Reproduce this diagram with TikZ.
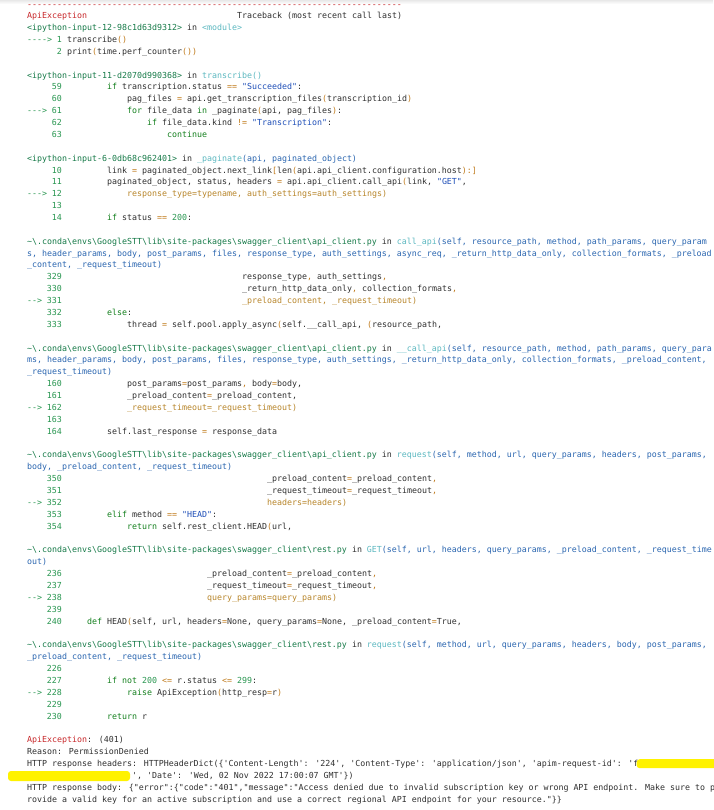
\documentclass[tikz,border=0pt]{standalone}
\usepackage{fontspec}
\usepackage{xcolor}
\usepackage{tikz}
\usetikzlibrary{positioning}
\newfontfamily\codefont{DejaVu Sans Mono}
\definecolor{fgc}{RGB}{48,48,48}
\definecolor{errc}{RGB}{200,40,43}
\definecolor{lnc}{RGB}{40,150,80}
\definecolor{pathcol}{RGB}{22,122,72}
\definecolor{fncol}{RGB}{92,184,192}
\definecolor{argcol}{RGB}{43,102,176}
\definecolor{kwcol}{RGB}{20,128,30}
\definecolor{strcol}{RGB}{31,79,184}
\definecolor{opcol}{RGB}{192,122,26}
\definecolor{hlcol}{RGB}{184,134,43}
\definecolor{redact}{RGB}{255,242,0}
\catcode`\_=12
\newcommand\kw[1]{\textcolor{kwcol}{#1}}
\newcommand\st[1]{\textcolor{strcol}{#1}}
\newcommand\op[1]{\textcolor{opcol}{#1}}
\newcommand\nm[1]{\textcolor{lnc}{#1}}
\newcommand\hlt[1]{\textcolor{hlcol}{#1}}
\newcommand\fnc[1]{\textcolor{fncol}{#1}}
\newcommand\argc[1]{\textcolor{argcol}{#1}}
\newcommand\pathc[1]{\textcolor{pathcol}{#1}}
\newcommand\envpath{\textasciitilde\textbackslash.conda\textbackslash envs\textbackslash GoogleSTT\textbackslash lib\textbackslash site-packages\textbackslash swagger_client\textbackslash}
% code line: row, column, text
\newcommand\cl[3]{\node[codetxt] (l#1) at ({27+5*#2},{-18.7-11.87*#1}) {#3};}
% line number: row, arrow, number
\newcommand\lno[3]{\node[codetxt, text=lnc] (a#1) at (27,{-18.7-11.87*#1}) {#2};
  \node[codetxt, text=lnc, anchor=base east] (n#1) at (62,{-18.7-11.87*#1}) {#3};}

\begin{document}
\begin{tikzpicture}[
    x=1pt, y=1pt,
    codetxt/.style={
        anchor=base west,
        inner sep=0pt,
        text=fgc,
        font=\codefont\fontsize{8.3}{10}\selectfont
    }
]
\useasboundingbox[fill=white] (0,0) rectangle (713,-810);
\shade[top color=gray!18, bottom color=white] (0,0) rectangle (713,-4);

% Header
\node[codetxt, text=errc] (rule) at (27,-8) {---------------------------------------------------------------------------};
\cl{0}{0}{\textcolor{errc}{ApiException}}
\node[codetxt] (tb) at ({27+5*42},-18.7) {Traceback (most recent call last)};

% Frame 1
\cl{1}{0}{\pathc{<ipython-input-12-98c1d63d9312>} in \fnc{<module>}}
\lno{2}{---->}{1}\cl{2}{8}{transcribe\op{()}}
\lno{3}{}{2}\cl{3}{8}{print\op{(}time.perf_counter\op{())}}

% Frame 2
\cl{5}{0}{\pathc{<ipython-input-11-d2070d990368>} in \fnc{transcribe()}}
\lno{6}{}{59}\cl{6}{16}{\kw{if} transcription.status \op{==} \st{"Succeeded"}:}
\lno{7}{}{60}\cl{7}{20}{pag_files \op{=} api.get_transcription_files\op{(}transcription_id\op{)}}
\lno{8}{--->}{61}\cl{8}{20}{\kw{for} file_data \kw{in} _paginate\op{(}api, pag_files\op{)}:}
\lno{9}{}{62}\cl{9}{24}{\kw{if} file_data.kind \op{!=} \st{"Transcription"}:}
\lno{10}{}{63}\cl{10}{28}{\kw{continue}}

% Frame 3
\cl{12}{0}{\pathc{<ipython-input-6-0db68c962401>} in \fnc{_paginate}\argc{(api, paginated_object)}}
\lno{13}{}{10}\cl{13}{16}{link \op{=} paginated_object.next_link\op{[}len\op{(}api.api_client.configuration.host\op{):]}}
\lno{14}{}{11}\cl{14}{16}{paginated_object, status, headers \op{=} api.api_client.call_api\op{(}link, \st{"GET"},}
\lno{15}{--->}{12}\cl{15}{20}{\hlt{response_type=typename, auth_settings=auth_settings)}}
\lno{16}{}{13}
\lno{17}{}{14}\cl{17}{16}{\kw{if} status \op{==} \nm{200}:}

% Frame 4
\cl{19}{0}{\pathc{\envpath api_client.py} in \fnc{call_api}\argc{(self, resource_path, method, path_params, query_param}}
\cl{20}{0}{\argc{s, header_params, body, post_params, files, response_type, auth_settings, async_req, _return_http_data_only, collection_formats, _preload}}
\cl{21}{0}{\argc{_content, _request_timeout)}}
\lno{22}{}{329}\cl{22}{43}{response_type\op{,} auth_settings\op{,}}
\lno{23}{}{330}\cl{23}{43}{_return_http_data_only\op{,} collection_formats\op{,}}
\lno{24}{-->}{331}\cl{24}{43}{\hlt{_preload_content, _request_timeout)}}
\lno{25}{}{332}\cl{25}{16}{\kw{else}:}
\lno{26}{}{333}\cl{26}{20}{thread \op{=} self.pool.apply_async\op{(}self.__call_api, \op{(}resource_path,}

% Frame 5
\cl{28}{0}{\pathc{\envpath api_client.py} in \fnc{__call_api}\argc{(self, resource_path, method, path_params, query_para}}
\cl{29}{0}{\argc{ms, header_params, body, post_params, files, response_type, auth_settings, _return_http_data_only, collection_formats, _preload_content,}}
\cl{30}{0}{\argc{_request_timeout)}}
\lno{31}{}{160}\cl{31}{20}{post_params\op{=}post_params\op{,} body\op{=}body,}
\lno{32}{}{161}\cl{32}{20}{_preload_content\op{=}_preload_content,}
\lno{33}{-->}{162}\cl{33}{20}{\hlt{_request_timeout=_request_timeout)}}
\lno{34}{}{163}
\lno{35}{}{164}\cl{35}{16}{self.last_response \op{=} response_data}

% Frame 6
\cl{37}{0}{\pathc{\envpath api_client.py} in \fnc{request}\argc{(self, method, url, query_params, headers, post_params,}}
\cl{38}{0}{\argc{body, _preload_content, _request_timeout)}}
\lno{39}{}{350}\cl{39}{48}{_preload_content\op{=}_preload_content\op{,}}
\lno{40}{}{351}\cl{40}{48}{_request_timeout\op{=}_request_timeout\op{,}}
\lno{41}{-->}{352}\cl{41}{48}{\hlt{headers=headers)}}
\lno{42}{}{353}\cl{42}{16}{\kw{elif} method \op{==} \st{"HEAD"}:}
\lno{43}{}{354}\cl{43}{20}{\kw{return} self.rest_client.HEAD\op{(}url,}

% Frame 7
\cl{45}{0}{\pathc{\envpath rest.py} in \fnc{GET}\argc{(self, url, headers, query_params, _preload_content, _request_time}}
\cl{46}{0}{\argc{out)}}
\lno{47}{}{236}\cl{47}{36}{_preload_content\op{=}_preload_content\op{,}}
\lno{48}{}{237}\cl{48}{36}{_request_timeout\op{=}_request_timeout\op{,}}
\lno{49}{-->}{238}\cl{49}{36}{\hlt{query_params=query_params)}}
\lno{50}{}{239}
\lno{51}{}{240}\cl{51}{12}{\kw{def} HEAD\op{(}self, url, headers\op{=}None, query_params\op{=}None, _preload_content\op{=}True,}

% Frame 8
\cl{53}{0}{\pathc{\envpath rest.py} in \fnc{request}\argc{(self, method, url, query_params, headers, body, post_params,}}
\cl{54}{0}{\argc{_preload_content, _request_timeout)}}
\lno{55}{}{226}
\lno{56}{}{227}\cl{56}{16}{\kw{if} \kw{not} \nm{200} \op{<=} r.status \op{<=} \nm{299}:}
\lno{57}{-->}{228}\cl{57}{20}{\kw{raise} ApiException\op{(}http_resp\op{=}r\op{)}}
\lno{58}{}{229}
\lno{59}{}{230}\cl{59}{16}{\kw{return} r}

% Error message
\cl{61}{0}{\textcolor{errc}{ApiException}: (401)}
\cl{62}{0}{Reason: PermissionDenied}
\cl{63}{0}{HTTP response headers: HTTPHeaderDict(\{'Content-Length': '224', 'Content-Type': 'application/json', 'apim-request-id': 'f}
\cl{64}{21}{', 'Date': 'Wed, 02 Nov 2022 17:00:07 GMT'\})}
\cl{65}{0}{HTTP response body: \{"error":\{"code":"401","message":"Access denied due to invalid subscription key or wrong API endpoint. Make sure to p}
\cl{66}{0}{rovide a valid key for an active subscription and use a correct regional API endpoint for your resource."\}\}}

% Redaction marks
\fill[redact, rounded corners=3pt] (l63.east) ++(-2,-4) rectangle ++(160,9);
\fill[redact, rounded corners=3pt] (8,-771) rectangle (130,-781);
\end{tikzpicture}
\end{document}
